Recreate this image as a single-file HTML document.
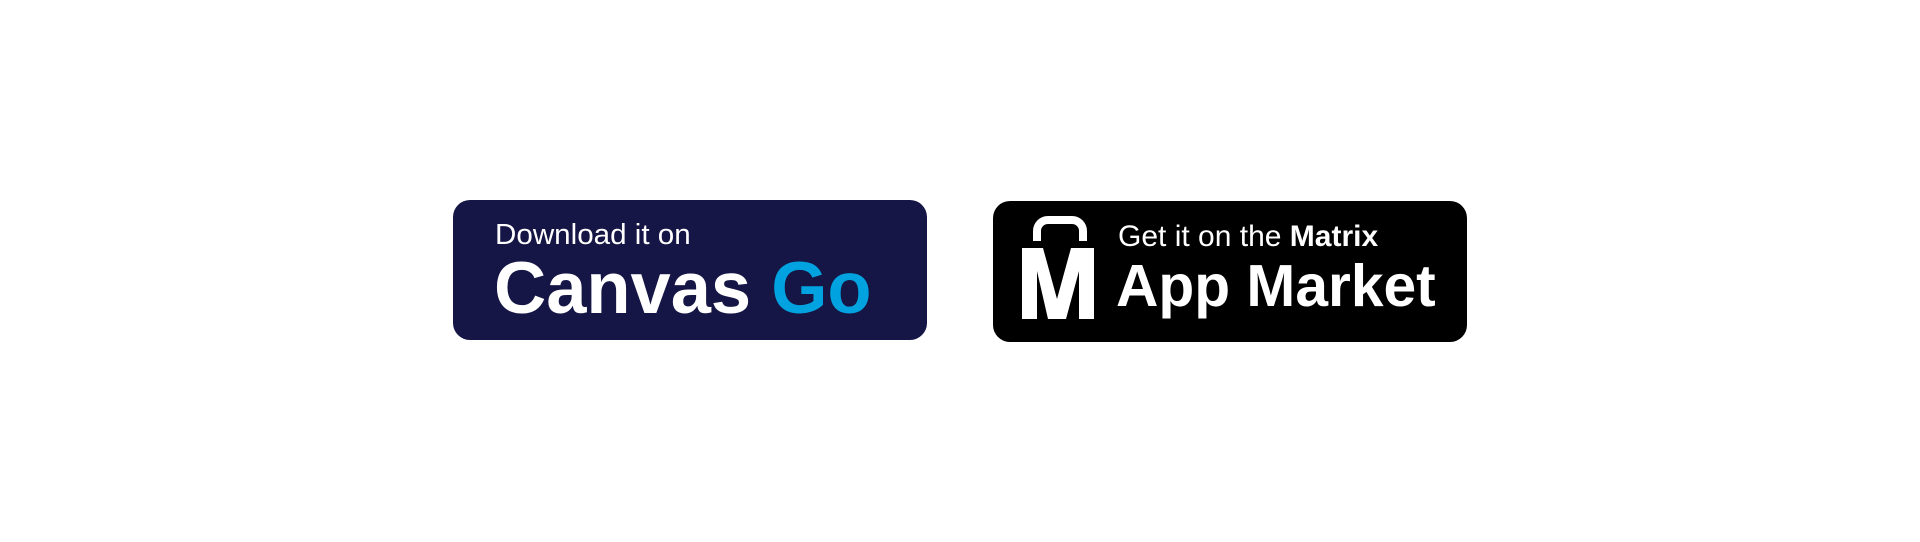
<!DOCTYPE html>
<html><head><meta charset="utf-8"><style>
body{margin:0;width:1920px;height:542px;background:#fff;position:relative;overflow:hidden;font-family:"Liberation Sans",sans-serif}
.btn{position:absolute;border-radius:17px}
.t{position:absolute;white-space:nowrap;color:#fff;transform-origin:0 0;line-height:1}
</style></head><body>
<div class="btn" style="left:453px;top:200px;width:474px;height:140px;background:#161646">
  <div class="t" style="left:42px;top:21px;font-size:29px;transform:scaleX(1.02)">Download it on</div>
  <div class="t" style="left:41px;top:52px;font-size:73px;font-weight:bold;transform:scaleX(0.99)">Canvas <span style="color:#00a3e0">Go</span></div>
</div>
<div class="btn" style="left:993px;top:201px;width:474px;height:141px;background:#000">
  <svg style="position:absolute;left:0;top:0" width="120" height="141">
    <path d="M44 40 V30 a11 11 0 0 1 11 -11 H79 a11 11 0 0 1 11 11 V40" fill="none" stroke="#fff" stroke-width="8"/>
    <path d="M29 47 H50 L64 98 L78 47 H101 V118 H86 V70 L73 118 H55 L44 70 V118 H29 Z" fill="#fff"/>
  </svg>
  <div class="t" style="left:125px;top:21px;font-size:30px;transform:scaleX(1.0)">Get it on the <b>Matrix</b></div>
  <div class="t" style="left:123px;top:56px;font-size:59px;font-weight:bold;transform:scaleX(0.995)">App Market</div>
</div>
</body></html>
